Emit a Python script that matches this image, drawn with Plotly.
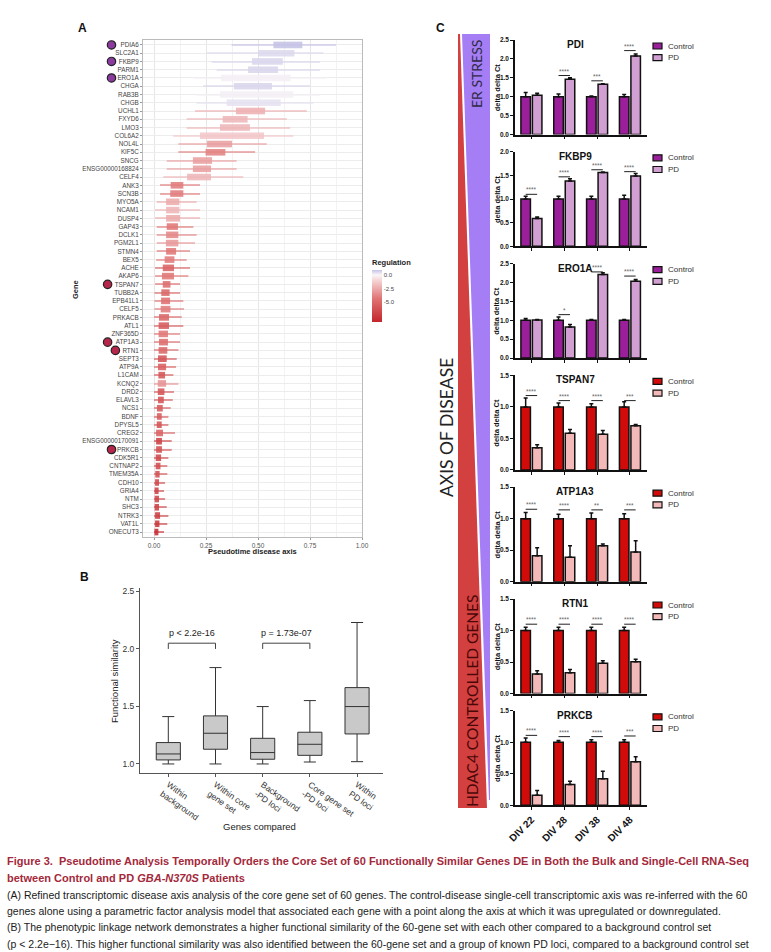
import plotly.graph_objects as go

W, H = 771, 952
def px(x): return x / W
def py(y): return 1 - y / H

SANS = "Liberation Sans, Arial, Helvetica, sans-serif"
CAP = "Liberation Sans, Arial, sans-serif"

# ---------------- Panel A data ----------------
genes = ["PDIA6","SLC2A1","FKBP9","PARM1","ERO1A","CHGA","RAB3B","CHGB","UCHL1","FXYD6",
         "LMO3","COL6A2","NOL4L","KIF5C","SNCG","ENSG00000168824","CELF4","ANK3","SCN3B","MYO5A",
         "NCAM1","DUSP4","GAP43","DCLK1","PGM2L1","STMN4","BEX5","ACHE","AKAP6","TSPAN7",
         "TUBB2A","EPB41L1","CELF5","PRKACB","ATL1","ZNF365D","ATP1A3","RTN1","SEPT3","ATP9A",
         "L1CAM","KCNQ2","DRD2","ELAVL3","NCS1","BDNF","DPYSL5","CREG2","ENSG00000170091","PRKCB",
         "CDK5R1","CNTNAP2","TMEM35A","CDH10","GRIA4","NTM","SHC3","NTRK3","VAT1L","ONECUT3"]
box_lo = [0.574,0.500,0.471,0.452,0.322,0.384,0.317,0.349,0.394,0.330,
          0.317,0.221,0.255,0.248,0.187,0.187,0.159,0.080,0.078,0.058,
          0.058,0.058,0.061,0.058,0.057,0.058,0.051,0.042,0.038,0.042,
          0.035,0.034,0.032,0.024,0.022,0.022,0.024,0.022,0.019,0.019,
          0.021,0.018,0.018,0.019,0.014,0.014,0.013,0.010,0.010,0.010,
          0.008,0.008,0.006,0.005,0.003,0.003,0.003,0.005,0.005,0.002]
box_hi = [0.713,0.675,0.619,0.596,0.657,0.567,0.670,0.609,0.534,0.450,
          0.461,0.529,0.375,0.343,0.279,0.274,0.274,0.141,0.141,0.122,
          0.122,0.125,0.115,0.117,0.117,0.106,0.098,0.096,0.096,0.079,
          0.075,0.077,0.079,0.072,0.072,0.067,0.067,0.064,0.061,0.058,
          0.053,0.058,0.050,0.047,0.042,0.037,0.037,0.043,0.038,0.038,
          0.034,0.031,0.027,0.024,0.022,0.024,0.024,0.029,0.026,0.021]
wh_lo = [0.373,0.253,0.277,0.301,0.189,0.237,0.205,0.205,0.197,0.157,
         0.157,0.093,0.117,0.117,0.061,0.061,0.045,0.029,0.029,0.013,
         0.005,0.005,0.013,0.013,0.013,0.013,0.010,0.005,0.005,0.005,
         0.002,0.002,0.002,0.0,0.0,0.0,0.0,0.0,0.0,0.0,
         0.0,0.0,0.0,0.0,0.0,0.0,0.0,0.0,0.0,0.0,
         0.0,0.0,0.0,0.0,0.0,0.0,0.0,0.0,0.0,0.0]
wh_hi = [0.875,0.814,0.798,0.798,0.830,0.750,0.798,0.766,0.734,0.638,
         0.654,0.670,0.542,0.486,0.397,0.397,0.429,0.221,0.221,0.205,
         0.221,0.221,0.189,0.205,0.197,0.173,0.157,0.173,0.165,0.125,
         0.125,0.141,0.144,0.133,0.141,0.125,0.125,0.117,0.109,0.106,
         0.093,0.117,0.096,0.090,0.080,0.069,0.069,0.101,0.085,0.085,
         0.069,0.064,0.064,0.053,0.048,0.053,0.061,0.069,0.064,0.048]
regulation = [0.9,0.5,0.55,0.55,0.1,0.55,0.1,0.35,-2.2,-2.0,
              -2.0,-1.4,-2.8,-3.8,-2.8,-2.8,-2.0,-4.0,-4.0,-2.4,
              -2.0,-2.4,-4.2,-3.6,-3.0,-4.2,-4.0,-5.2,-4.2,-4.6,
              -5.0,-4.5,-4.0,-5.0,-5.6,-4.2,-4.6,-5.0,-6.0,-5.4,
              -5.8,-3.2,-6.0,-6.0,-5.6,-5.6,-6.0,-5.2,-7.0,-6.2,
              -6.6,-6.4,-6.2,-6.6,-7.0,-6.8,-7.0,-7.2,-7.6,-8.2]
reg_ticks = [0.0, -2.5, -5.0]
marked_er = ["PDIA6", "FKBP9", "ERO1A"]
marked_hdac = ["TSPAN7", "ATP1A3", "RTN1", "PRKCB"]
pt_ticks = [0.0, 0.25, 0.5, 0.75, 1.0]

# ---------------- Panel B data ----------------
b_groups = ["Within<br>background", "Within core<br>gene set", "Background<br>-PD loci",
            "Core gene set<br>-PD loci", "Within<br>PD loci"]
b_lowf = [1.0, 1.0, 1.0, 1.017, 1.02]
b_q1 = [1.035, 1.128, 1.041, 1.075, 1.261]
b_med = [1.087, 1.267, 1.099, 1.171, 1.499]
b_q3 = [1.186, 1.418, 1.223, 1.276, 1.664]
b_upf = [1.412, 1.838, 1.499, 1.551, 2.23]
b_tests = [(1, 2, "p < 2.2e-16"), (3, 4, "p = 1.73e-07")]
b_bracket = [2.0, 2.05]
b_yticks = [1.0, 1.5, 2.0, 2.5]

# ---------------- Panel C data ----------------
divs = ["DIV 22", "DIV 28", "DIV 38", "DIV 48"]
c_genes = ["PDI", "FKBP9", "ERO1A", "TSPAN7", "ATP1A3", "RTN1", "PRKCB"]
c_group = ["ER", "ER", "ER", "HDAC", "HDAC", "HDAC", "HDAC"]
c_ymax = [2.5, 2.0, 2.5, 1.5, 1.5, 1.5, 1.5]
ctrl_mean = [[1.0,1.0,1.0,1.0]] * 7
ctrl_err = [[0.11,0.07,0.02,0.06],[0.06,0.06,0.06,0.08],[0.05,0.09,0.02,0.02],
            [0.14,0.06,0.05,0.08],[0.10,0.07,0.09,0.08],[0.05,0.05,0.05,0.05],
            [0.07,0.03,0.04,0.04]]
pd_mean = [[1.04,1.46,1.33,2.08],[0.59,1.38,1.56,1.49],[1.01,0.82,2.21,2.03],
           [0.35,0.58,0.565,0.70],[0.41,0.39,0.57,0.47],[0.31,0.33,0.48,0.505],
           [0.16,0.33,0.42,0.69]]
pd_err = [[0.05,0.04,0.01,0.05],[0.03,0.05,0.01,0.05],[0.01,0.07,0.05,0.05],
          [0.05,0.06,0.06,0.02],[0.13,0.18,0.03,0.18],[0.05,0.05,0.04,0.04],
          [0.075,0.05,0.12,0.08]]
sig_text = [["","****","***","****"],["****"]*4,["","*","****","****"],
            ["****","****","****","***"],["****","****","**","***"],["****"]*4,
            ["****","****","****","***"]]
sig_y = [[None,1.56,1.42,2.22],[1.10,1.47,1.62,1.58],[None,1.15,2.28,2.17],
         [1.18,1.10,1.10,1.10],[1.15,1.14,1.14,1.14],[1.10,1.10,1.10,1.10],
         [1.11,1.09,1.09,1.10]]
series_names = ["Control", "PD"]
colors = {"ER": ("#9b1f9b", "#d29fd2"), "HDAC": ("#d10a0a", "#f3b9b9")}

cap_title = ["Figure 3.  Pseudotime Analysis Temporally Orders the Core Set of 60 Functionally Similar Genes DE in Both the Bulk and Single-Cell RNA-Seq",
             "between Control and PD <i>GBA-N370S</i> Patients"]
cap_body = ["(A) Refined transcriptomic disease axis analysis of the core gene set of 60 genes. The control-disease single-cell transcriptomic axis was re-inferred with the 60",
            "genes alone using a parametric factor analysis model that associated each gene with a point along the axis at which it was upregulated or downregulated.",
            "(B) The phenotypic linkage network demonstrates a higher functional similarity of the 60-gene set with each other compared to a background control set",
            "(p < 2.2e\u221216). This higher functional similarity was also identified between the 60-gene set and a group of known PD loci, compared to a background control set",
            "(p = 8.52e\u221208). The high functional similarity of PD genes to each other is used as a positive control."]

fig = go.Figure()
annotations = []
shapes = []

def note(text, x, y, size, color="#222", angle=0, xa="center", ya="middle", family=SANS, **kw):
    d = dict(text=text, x=px(x), y=py(y), xref="paper", yref="paper", showarrow=False,
             xanchor=xa, yanchor=ya, textangle=angle,
             font=dict(size=size, family=family, color=color))
    d.update(kw)
    annotations.append(d)

# ================= Panel A =================
n = len(genes)
ypos = [n - 1 - i for i in range(n)]
A_x0, A_x1, A_y0, A_y1 = 143, 362, 40, 537
A_range = [-0.053, 1.0]
cmin, cmax = -8.6, 0.9
zero = (0 - cmin) / (cmax - cmin)
cscale = [[0, "#c3262c"], [0.45, "#e07474"], [0.8, "#f6d4d6"], [zero, "#fbf6f8"], [1, "#c6c3e6"]]

fig.add_trace(go.Bar(
    orientation="h", y=ypos, x=[h - l for l, h in zip(wh_lo, wh_hi)], base=wh_lo,
    width=0.14, offset=-0.07, opacity=0.6,
    marker=dict(color=regulation, colorscale=cscale, cmin=cmin, cmax=cmax, line_width=0),
    xaxis="x", yaxis="y", showlegend=False, hoverinfo="skip"))
fig.add_trace(go.Bar(
    orientation="h", y=ypos, x=[h - l for l, h in zip(box_lo, box_hi)], base=box_lo,
    width=0.8, offset=-0.4, opacity=0.88,
    marker=dict(color=regulation, colorscale=cscale, cmin=cmin, cmax=cmax, line_width=0,
                showscale=True,
                colorbar=dict(title=dict(text="<b>Regulation</b>", side="top",
                                         font=dict(size=7.5, family=SANS, color="#222")),
                              tickvals=reg_ticks, ticktext=["%.1f" % v for v in reg_ticks],
                              tickfont=dict(size=6, family=SANS, color="#444"),
                              x=px(372), xanchor="left", y=py(256), yanchor="top",
                              lenmode="pixels", len=66, thicknessmode="pixels", thickness=10,
                              xpad=0, ypad=0, outlinewidth=0, ticks="")),
    xaxis="x", yaxis="y", showlegend=False))

# highlighted genes: circles just left of their labels
for lst, col in [(marked_er, "#8b3a9e"), (marked_hdac, "#b5264a")]:
    for gname in lst:
        dot_px = 138 - 3.9 * len(gname) - 7
        shapes.append(dict(type="circle", xref="paper", yref="y",
                           xsizemode="pixel", ysizemode="pixel",
                           xanchor=px(dot_px), yanchor=n - 1 - genes.index(gname),
                           x0=-4.2, x1=4.2, y0=-4.2, y1=4.2, fillcolor=col,
                           line=dict(color="#222", width=1.2), layer="above"))

axA_x = dict(domain=[px(A_x0), px(A_x1)], range=A_range, anchor="y", automargin=False,
             tickvals=pt_ticks, ticktext=["%.2f" % v for v in pt_ticks],
             tickfont=dict(size=6.5, family=SANS, color="#555"),
             showgrid=True, gridcolor="#e6e6e6", gridwidth=0.8,
             minor=dict(tickvals=[0.125, 0.375, 0.625, 0.875], showgrid=True, gridcolor="#f2f2f2", gridwidth=0.6),
             showline=True, linecolor="#bbbbbb", linewidth=1, mirror=True,
             ticks="outside", ticklen=2, tickcolor="#999", zeroline=False)
axA_y = dict(domain=[py(A_y1), py(A_y0)], range=[-0.6, n - 1 + 0.6], anchor="x", automargin=False,
             tickvals=ypos, ticktext=genes, tickfont=dict(size=6.3, family=SANS, color="#444"),
             showgrid=True, gridcolor="#ececec", gridwidth=0.8,
             showline=True, linecolor="#bbbbbb", linewidth=1, mirror=True,
             ticks="outside", ticklen=2, tickcolor="#999", zeroline=False)

note("<b>A</b>", 82, 28, 12, "#111")
note("<b>Gene</b>", 75, 290, 7.5, angle=-90)
note("<b>Pseudotime disease axis</b>", 252, 551, 7.5)

# ================= Panel B =================
B_x0, B_x1, B_y0, B_y1 = 140, 383, 588, 772.7
bx = list(range(1, len(b_groups) + 1))
fig.add_trace(go.Box(
    x=bx, q1=b_q1, median=b_med, q3=b_q3, lowerfence=b_lowf, upperfence=b_upf,
    fillcolor="#c9c9c9", line=dict(color="#333", width=1), boxpoints=False,
    xaxis="x2", yaxis="y2", showlegend=False, hoverinfo="skip"))
for a, b, txt in b_tests:
    fig.add_trace(go.Scatter(x=[a, a, b, b], y=[b_bracket[0], b_bracket[1], b_bracket[1], b_bracket[0]],
                             mode="lines", line=dict(color="#444", width=1),
                             xaxis="x2", yaxis="y2", showlegend=False, hoverinfo="skip"))
    annotations.append(dict(text=txt, x=(a + b) / 2, y=b_bracket[1], xref="x2", yref="y2",
                            xanchor="center", yanchor="bottom", yshift=3, showarrow=False,
                            font=dict(size=9, family=SANS, color="#222")))
axB_x = dict(domain=[px(B_x0), px(B_x1)], range=[0.4, 5.55], anchor="y2", automargin=False,
             tickvals=bx, ticktext=b_groups, tickangle=35,
             tickfont=dict(size=8.5, family=SANS, color="#333"),
             showgrid=False, zeroline=False, showline=True, linecolor="#555", linewidth=1,
             ticks="outside", ticklen=3, tickcolor="#555")
axB_y = dict(domain=[py(B_y1), py(B_y0)], range=[0.924, 2.53], anchor="x2", automargin=False,
             tickvals=b_yticks, ticktext=["%.1f" % v for v in b_yticks],
             tickfont=dict(size=8.5, family=SANS, color="#333"),
             showgrid=False, zeroline=False, showline=True, linecolor="#555", linewidth=1,
             ticks="outside", ticklen=3, tickcolor="#555")
note("<b>B</b>", 84, 577, 12, "#111")
note("Functional similarity", 114, 681, 9.5, angle=-90)
note("Genes compared", 259, 826, 9.5)

# ================= Panel C =================
C_x0, C_x1 = 515, 647
axes_c = {}
bar_w, off_c, off_p = 0.29, -0.32, 0.03
cen_c, cen_p = off_c + bar_w / 2, off_p + bar_w / 2
xi = list(range(len(divs)))
for k, g in enumerate(c_genes):
    idx = k + 3
    xa, ya = "x%d" % idx, "y%d" % idx
    top = 40 + k * 111.8
    bot = top + 94.5
    cc, pc = colors[c_group[k]]
    for name, mean, err, col, off in [(series_names[0], ctrl_mean[k], ctrl_err[k], cc, off_c),
                                      (series_names[1], pd_mean[k], pd_err[k], pc, off_p)]:
        fig.add_trace(go.Bar(
            x=xi, y=mean, width=bar_w, offset=off, name=name,
            marker=dict(color=col, line=dict(color="#111", width=1.5)),
            error_y=dict(type="data", array=err, arrayminus=[0] * len(err), symmetric=False,
                         color="#111", thickness=1.5, width=2),
            xaxis=xa, yaxis=ya, showlegend=False, hoverinfo="skip"))
    bxs, bys = [], []
    for i, (s, t) in enumerate(zip(sig_y[k], sig_text[k])):
        if s is None or not t:
            continue
        bxs += [i + cen_c, i + cen_p, None]
        bys += [s, s, None]
        annotations.append(dict(text=t, x=i, y=s, xref=xa, yref=ya, xanchor="center",
                                yanchor="bottom", yshift=-1, showarrow=False,
                                font=dict(size=6.5, family=SANS, color="#666")))
    fig.add_trace(go.Scatter(x=bxs, y=bys, mode="lines", line=dict(color="#222", width=1),
                             xaxis=xa, yaxis=ya, showlegend=False, hoverinfo="skip"))
    last = (k == len(c_genes) - 1)
    ymax = c_ymax[k]
    yt = [v * 0.5 for v in range(int(ymax / 0.5) + 1)]
    axes_c["xaxis%d" % idx] = dict(
        domain=[px(C_x0), px(C_x1)], range=[-0.5, 3.52], anchor=ya, automargin=False,
        tickvals=xi, ticktext=divs if last else [""] * 4, tickangle=-45,
        tickfont=dict(size=10, family=SANS, color="#111", weight="bold"),
        showgrid=False, zeroline=False, showline=True, linecolor="#111", linewidth=1.5,
        ticks="outside", ticklen=3, tickwidth=1.3, tickcolor="#111")
    axes_c["yaxis%d" % idx] = dict(
        domain=[py(bot), py(top)], range=[0, ymax], anchor=xa, automargin=False,
        tickvals=yt, ticktext=["%.1f" % v for v in yt],
        tickfont=dict(size=6.5, family=SANS, color="#111", weight="bold"),
        showgrid=False, zeroline=False, showline=True, linecolor="#111", linewidth=1.5,
        ticks="outside", ticklen=3, tickwidth=1.3, tickcolor="#111")
    note("<b>%s</b>" % g, 575, top + 4.5, 10, "#111")
    note("<b>delta delta Ct</b>", 497, (top + bot) / 2, 7.5, "#111", angle=-90)
    for j, (name, col) in enumerate([(series_names[0], cc), (series_names[1], pc)]):
        yc = top + 6 + j * 11.7
        shapes.append(dict(type="rect", xref="paper", yref="paper", x0=px(653), x1=px(662),
                           y0=py(yc + 3), y1=py(yc - 3), fillcolor=col,
                           line=dict(color="#111", width=1.2)))
        note(name, 666, yc, 8, "#333", xa="left")

# decorative axis-of-disease wedges
def path(pts):
    return "M " + " L ".join("%f,%f" % (px(x), py(y)) for x, y in pts) + " Z"
shapes.append(dict(type="path", xref="paper", yref="paper",
                   path=path([(458, 34), (460, 34), (487, 808), (458, 808)]),
                   fillcolor="#d24040", line=dict(width=0)))
shapes.append(dict(type="path", xref="paper", yref="paper",
                   path=path([(462, 34), (490, 34), (490, 800), (489, 800)]),
                   fillcolor="#a57df5", line=dict(width=0)))
LATO = "Lato, Open Sans, sans-serif"
note("<b>C</b>", 440, 28, 12, "#111")
note("ER STRESS", 477, 74, 14, "#2e2a44", angle=-90, family=LATO)
note("AXIS OF DISEASE", 447, 428, 17.5, "#222", angle=-90, family=LATO)
note("HDAC4 CONTROLLED GENES", 472, 701, 15.5, "#4a0808", angle=-90, family=LATO)

# ================= Caption =================
for i, line in enumerate(cap_title):
    note("<b>%s</b>" % line, 5, 861 + 16.5 * i, 11, "#a3293b", xa="left", family=CAP)
for i, line in enumerate(cap_body):
    note(line, 5, 895 + 16.2 * i, 10.5, "#1a1a1a", xa="left", family=CAP)

fig.update_layout(
    width=W, height=H, margin=dict(l=0, r=0, t=0, b=0, autoexpand=False),
    paper_bgcolor="white", plot_bgcolor="white", barmode="overlay", boxgap=0.27,
    xaxis=axA_x, yaxis=axA_y, xaxis2=axB_x, yaxis2=axB_y,
    annotations=annotations, shapes=shapes, showlegend=False,
    font=dict(family=SANS))
fig.update_layout(**axes_c)
fig.write_html("out.html", config={"displayModeBar": False},
               post_script="document.body.style.margin='0';document.body.style.overflow='hidden';")
